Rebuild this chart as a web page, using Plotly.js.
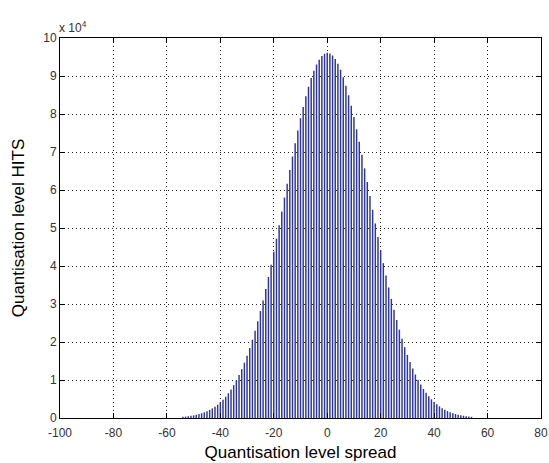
<!DOCTYPE html>
<html>
<head>
<meta charset="utf-8">
<script src="https://cdn.plot.ly/plotly-3.0.1.min.js"></script>
<style>html,body{margin:0;padding:0;background:#fff;}#chart{width:549px;height:463px;}</style>
</head>
<body>
<div id="chart"></div>
<script>
// Quantisation levels (x) and hit counts (y)
const levels = [
  -54,-53,-52,-51,-50,-49,-48,-47,-46,-45,-44,-43,-42,-41,-40,-39,-38,-37,-36,-35,
  -34,-33,-32,-31,-30,-29,-28,-27,-26,-25,-24,-23,-22,-21,-20,-19,-18,-17,-16,-15,
  -14,-13,-12,-11,-10,-9,-8,-7,-6,-5,-4,-3,-2,-1,0,1,2,3,4,5,
  6,7,8,9,10,11,12,13,14,15,16,17,18,19,20,21,22,23,24,25,
  26,27,28,29,30,31,32,33,34,35,36,37,38,39,40,41,42,43,44,45,
  46,47,48,49,50,51,52,53,54
];
const hits = [
  300,380,470,570,700,860,1040,1250,1490,1790,2130,2530,2990,3510,4120,4820,5600,6500,7500,8650,
  9900,11300,12850,14550,16400,18400,20600,22950,25450,28150,30950,33950,37100,40350,43750,47200,50750,54350,58000,61650,
  65250,68800,72300,75650,78850,81850,84650,87150,89450,91400,93050,94300,95250,95850,96100,95900,95400,94500,93250,91650,
  89700,87450,84950,82200,79200,76000,72700,69250,65700,62100,58450,54800,51200,47650,44150,40750,37500,34350,31350,28500,
  25800,23250,20850,18650,16600,14750,13000,11450,10050,8800,7650,6620,5720,4920,4220,3600,3060,2590,2180,1830,
  1530,1280,1060,880,720,590,480,390,310
];
const yTickVals = [0,10000,20000,30000,40000,50000,60000,70000,80000,90000,100000];
const yTickText = ['0','1','2','3','4','5','6','7','8','9','10'];
const xTickVals = [-100,-80,-60,-40,-20,0,20,40,60,80];

const font = {family: 'Liberation Sans, Arial, sans-serif', color: '#000'};
const tickFont = {family: 'Liberation Sans, Arial, sans-serif', color: '#333', size: 12};

Plotly.newPlot('chart', [{
  type: 'bar',
  x: levels,
  y: hits,
  width: 0.55,
  marker: {color: 'rgb(45,52,165)', line: {width: 0}},
  hoverinfo: 'x+y'
}], {
  width: 549, height: 463,
  margin: {l: 60, r: 8, t: 38, b: 45},
  paper_bgcolor: '#fff', plot_bgcolor: '#fff',
  showlegend: false,
  xaxis: {
    range: [-100, 80], tickvals: xTickVals, ticktext: xTickVals.map(String),
    ticks: 'inside', ticklen: 5, tickcolor: '#000', mirror: 'ticks',
    showline: true, linecolor: '#000', linewidth: 1,
    showgrid: true, gridcolor: '#222', griddash: '1px,3px', gridwidth: 1,
    zeroline: false, ticklabelstandoff: 4,
    tickfont: tickFont,
    title: {text: 'Quantisation level spread', font: Object.assign({size: 17}, font), standoff: 6}
  },
  yaxis: {
    range: [0, 100000], tickvals: yTickVals, ticktext: yTickText,
    ticks: 'inside', ticklen: 5, tickcolor: '#000', mirror: 'ticks',
    showline: true, linecolor: '#000', linewidth: 1,
    showgrid: true, gridcolor: '#222', griddash: '1px,3px', gridwidth: 1,
    zeroline: false,
    tickfont: tickFont,
    title: {text: 'Quantisation level HITS', font: Object.assign({size: 17}, font), standoff: 14}
  },
  annotations: [{
    xref: 'paper', yref: 'paper', x: 0, y: 1, xanchor: 'left', yanchor: 'bottom',
    xshift: -3, yshift: 1,
    text: 'x 10<sup>4</sup>', showarrow: false, font: Object.assign({size: 12}, tickFont)
  }]
}, {displayModeBar: false, staticPlot: true});
</script>
</body>
</html>
